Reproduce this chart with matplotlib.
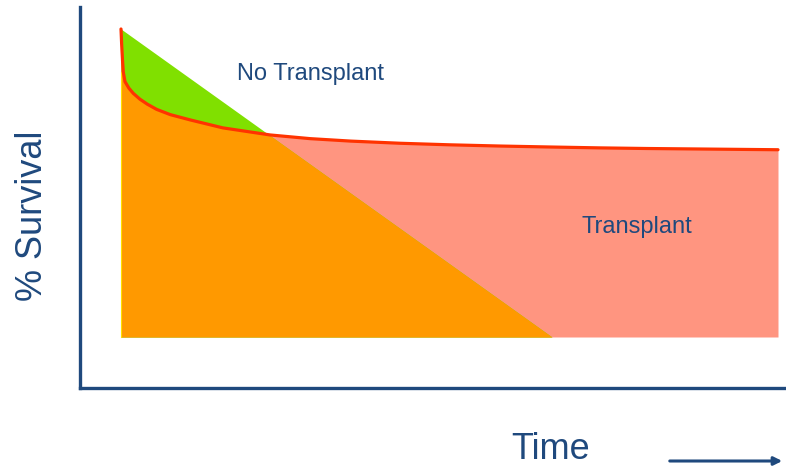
import numpy as np
import matplotlib
matplotlib.use("Agg")
import matplotlib.pyplot as plt

# Data (time 0-100, survival %)
no_tx_time = [0.0, 65.6]
no_tx_surv = [100.0, 0.0]

tx_time = [0.0, 0.1, 0.23, 0.35, 0.61, 1.2, 1.87, 2.89, 4.0, 5.43, 7.5,
           10.5, 15.5, 22.7, 28.8, 35.0, 42.5, 50.0, 57.7, 65.0, 72.9, 80.0, 90.0, 100.0]
tx_surv = [100.0, 95.0, 89.9, 86.0, 82.9, 80.8, 79.1, 77.2, 75.6, 73.9, 72.2,
           70.5, 67.9, 65.6, 64.4, 63.6, 62.9, 62.4, 62.0, 61.7, 61.4, 61.2, 61.0, 60.8]

labels = {"no_tx": "No Transplant", "tx": "Transplant",
          "x": "Time", "y": "% Survival"}

navy = "#1F497D"
orange = "#FF9900"
green = "#80E000"
salmon = "#FF9580"
red = "#FF3300"

W, H = 786, 468
fig = plt.figure(figsize=(W / 100, H / 100), dpi=100)
fig.patch.set_facecolor("white")
plt.rcParams["font.family"] = ["Liberation Sans", "DejaVu Sans"]

ax = fig.add_axes([80 / W, (H - 388) / H, (W - 80) / W, (388 - 7) / H])
ax.set_xlim((80 - 121) / 6.57, (786 - 121) / 6.57)
ax.set_ylim((337 - 388) / 3.08, (337 - 7) / 3.08)

# rendering grid
t = np.linspace(tx_time[0], tx_time[-1], 4001)
t = np.union1d(t, np.array(tx_time))
tx = np.interp(t, tx_time, tx_surv)
nt = np.interp(t, no_tx_time, no_tx_surv, right=0.0)
low = np.minimum(tx, nt)

# layered fills (no seams between regions)
ax.fill_between(t, 0, tx, color=salmon, lw=0, zorder=2)
ax.fill_between(t, 0, nt, color=green, lw=0, zorder=2.1)
ax.fill_between(t, 0, low, color=orange, lw=0, zorder=2.2)
# thin yellow edge of orange region
ax.plot([0, 0], [0, tx_surv[3]], color="#FFE000", lw=0.8, zorder=3)
ax.plot(tx_time, tx_surv, color=red, lw=2.3, zorder=4, solid_capstyle="round")

for side in ["top", "right"]:
    ax.spines[side].set_visible(False)
for side in ["left", "bottom"]:
    ax.spines[side].set_color(navy)
    ax.spines[side].set_linewidth(2.4)
ax.set_xticks([])
ax.set_yticks([])
ax.set_facecolor("none")

fig.text(237 / W, 1 - 80 / H, labels["no_tx"], color=navy, fontsize=17,
         ha="left", va="baseline")
fig.text(582 / W, 1 - 233 / H, labels["tx"], color=navy, fontsize=17,
         ha="left", va="baseline")
fig.text(511 / W, 1 - 459 / H, labels["x"], color=navy, fontsize=26,
         ha="left", va="baseline")
fig.text(32 / W, 1 - 216 / H, labels["y"], color=navy, fontsize=26,
         ha="center", va="center", rotation=90)

fig.add_artist(matplotlib.patches.FancyArrowPatch(
    (667 / W, 1 - 461 / H), (785 / W, 1 - 461 / H), transform=fig.transFigure,
    arrowstyle="-|>", mutation_scale=12, lw=2.2, color=navy))

fig.savefig("out.png", dpi=100)
